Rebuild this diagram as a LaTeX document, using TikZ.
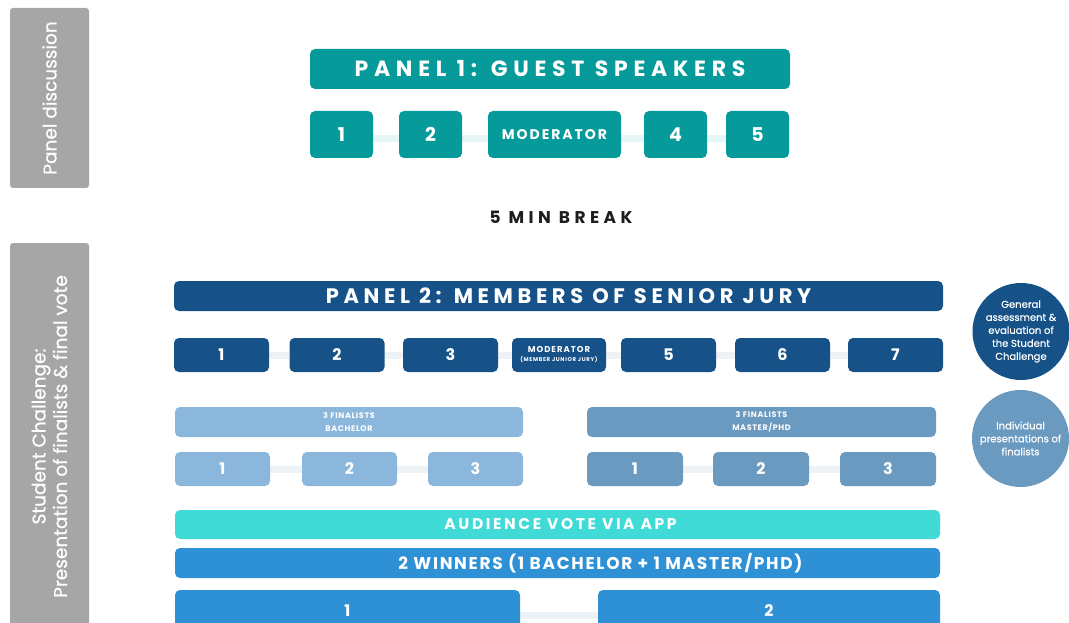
\documentclass[tikz,border=0pt]{standalone}
\usepackage{fontspec}
\setmainfont{Poppins}
\usetikzlibrary{backgrounds}
\definecolor{sidegray}{HTML}{A6A6A6}
\definecolor{panelone}{HTML}{079A9B}
\definecolor{paneltwo}{HTML}{165288}
\definecolor{bachcol}{HTML}{8CB7DD}
\definecolor{mastercol}{HTML}{6B9AC0}
\definecolor{votecol}{HTML}{40DAD7}
\definecolor{wincol}{HTML}{2E90D5}
\definecolor{tealfaint}{HTML}{E6F5F5}
\definecolor{bluefaint}{HTML}{EDF2F7}
\definecolor{breakcol}{HTML}{1E1E1E}
\newcommand{\track}[1]{\addfontfeatures{LetterSpace=#1}}

\begin{document}
\begin{tikzpicture}[x=1pt, y=-1pt,
  side/.style={fill=sidegray, rounded corners=3pt, text=white, rotate=90,
    align=center, inner sep=0pt, font=\addfontfeatures{FakeBold=0.6}\fontsize{18.5}{21.5}\selectfont},
  tile/.style={fill=#1, rounded corners=5pt, text=white, inner sep=0pt,
    align=center},
  title/.style={tile=#1, font=\bfseries\track{26}\fontsize{22}{26}\selectfont},
  num/.style={tile=#1, minimum height=34pt, minimum width=95pt,
    font=\bfseries\fontsize{16}{18}\selectfont},
  bubble/.style={circle, fill=#1, text=white, minimum size=97pt, inner sep=0pt,
    align=center, font=\addfontfeatures{FakeBold=0.5}\fontsize{10}{13}\selectfont},
  link/.style={line width=7pt, #1}]
\useasboundingbox (0,0) rectangle (1069,623);

% side labels
\node[side, minimum width=180pt, minimum height=79pt] (sideone) at (49.5,98)
  {Panel discussion};
\node[side, minimum width=387pt, minimum height=79pt] (sidetwo) at (49.5,436.5)
  {Student Challenge:\\ Presentation of finalists \& final vote};

% panel 1
\node[title=panelone, minimum width=480pt, minimum height=40pt] (pone) at (550,69)
  {PANEL 1: GUEST SPEAKERS};
\node[num=panelone, minimum width=63pt, minimum height=47pt, font=\bfseries\fontsize{19}{20}\selectfont]
  (ga) at (341.5,134.5) {1};
\node[num=panelone, minimum width=63pt, minimum height=47pt, font=\bfseries\fontsize{19}{20}\selectfont]
  (gb) at (430.5,134.5) {2};
\node[num=panelone, minimum width=133pt, minimum height=47pt, font=\bfseries\track{14}\fontsize{14}{16}\selectfont]
  (gmod) at (554.5,134.5) {MODERATOR};
\node[num=panelone, minimum width=63pt, minimum height=47pt, font=\bfseries\fontsize{19}{20}\selectfont]
  (gd) at (675.5,134.5) {4};
\node[num=panelone, minimum width=63pt, minimum height=47pt, font=\bfseries\fontsize{19}{20}\selectfont]
  (ge) at (757.5,134.5) {5};

\node[text=breakcol, font=\bfseries\track{26}\fontsize{17}{19}\selectfont] (brk) at (561,217)
  {5 MIN BREAK};

% panel 2
\node[title=paneltwo, minimum width=769pt, minimum height=30pt,
  font=\bfseries\track{22}\fontsize{21}{24}\selectfont] (ptwo) at (558.5,296)
  {\hspace*{20pt}PANEL 2: MEMBERS OF SENIOR JURY};
\node[num=paneltwo] (ja) at (221.5,355) {1};
\node[num=paneltwo] (jb) at (337,355) {2};
\node[num=paneltwo] (jc) at (450.5,355) {3};
\node[num=paneltwo, minimum width=94pt, font=\bfseries\track{12}\fontsize{8.5}{10}\selectfont]
  (jmod) at (559,355) {MODERATOR\\[-1pt] {\fontsize{5.5}{7}\selectfont(MEMBER JUNIOR JURY)}};
\node[num=paneltwo] (je) at (668.5,355) {5};
\node[num=paneltwo] (jf) at (782.5,355) {6};
\node[num=paneltwo] (jg) at (895.5,355) {7};

% finalists
\node[tile=bachcol, minimum width=348pt, minimum height=30pt,
  font=\bfseries\track{8}\fontsize{8}{12.5}\selectfont] (bach) at (349,422)
  {3 FINALISTS\\ BACHELOR};
\node[tile=mastercol, minimum width=349pt, minimum height=30pt,
  font=\bfseries\track{8}\fontsize{8}{12.5}\selectfont] (mast) at (761.5,422)
  {3 FINALISTS\\ MASTER/PHD};
\node[num=bachcol] (ba) at (222.5,469) {1};
\node[num=bachcol] (bb) at (349.5,469) {2};
\node[num=bachcol] (bc) at (475.5,469) {3};
\node[num=mastercol, minimum width=96pt] (ma) at (635,469) {1};
\node[num=mastercol, minimum width=96pt] (mb) at (761,469) {2};
\node[num=mastercol, minimum width=96pt] (mc) at (888,469) {3};

% vote and winners
\node[tile=votecol, minimum width=765pt, minimum height=29pt,
  font=\bfseries\track{17}\fontsize{15.5}{18}\selectfont] (vote) at (557.5,524.5)
  {\hspace*{6pt}AUDIENCE VOTE VIA APP};
\node[tile=wincol, minimum width=765pt, minimum height=30pt,
  font=\bfseries\track{10}\fontsize{17}{20}\selectfont] (win) at (557.5,563)
  {\hspace*{86pt}2 WINNERS (1 BACHELOR + 1 MASTER/PHD)};
\node[num=wincol, minimum width=345pt, minimum height=42pt] (wa) at (347.5,611) {1};
\node[num=wincol, minimum width=342pt, minimum height=42pt] (wb) at (769,611) {2};

% circles
\node[bubble=paneltwo] (assess) at (1021,331.5)
  {General\\ assessment \&\\ evaluation of\\ the Student\\ Challenge};
\node[bubble=mastercol] (indiv) at (1020.5,438.5)
  {Individual\\ presentations of\\ finalists};

% faint links behind the rows
\begin{scope}[on background layer]
  \foreach \a/\b in {ga/gb, gb/gmod, gmod/gd, gd/ge}
    \draw[link=tealfaint] ([yshift=-4pt]\a.center) -- ([yshift=-4pt]\b.center);
  \foreach \a/\b in {ja/jb, jb/jc, jc/jmod, jmod/je, je/jf, jf/jg,
    ba/bb, bb/bc, ma/mb, mb/mc}
    \draw[link=bluefaint] (\a) -- (\b);
  \draw[link=bluefaint] ([yshift=-4pt]wa.center) -- ([yshift=-4pt]wb.center);
\end{scope}
\end{tikzpicture}
\end{document}
